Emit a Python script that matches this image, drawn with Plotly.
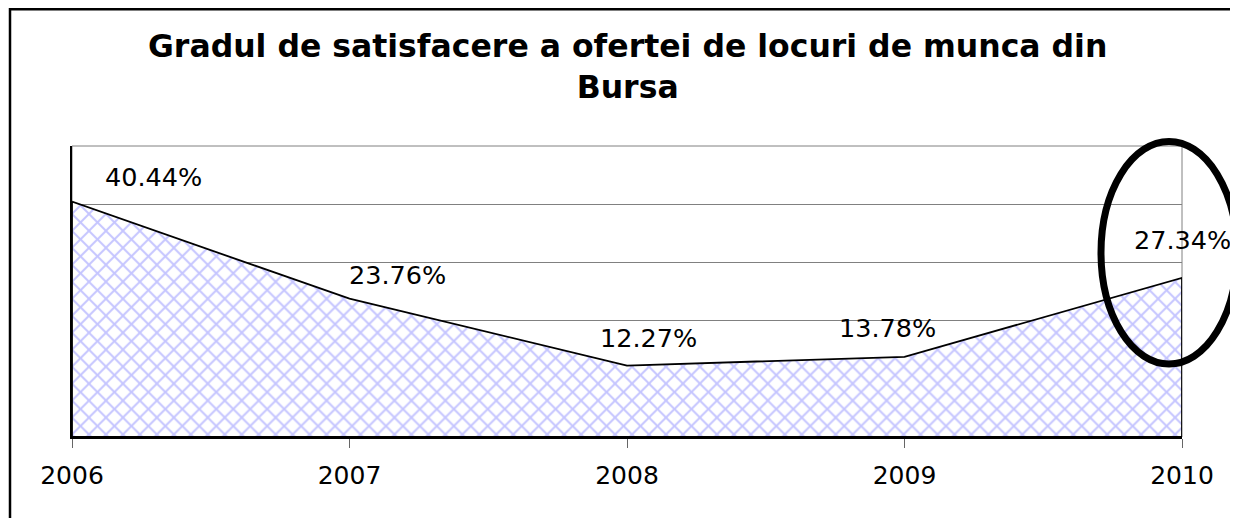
import plotly.graph_objects as go

years = [2006, 2007, 2008, 2009, 2010]
values = [0.4044, 0.2376, 0.1227, 0.1378, 0.2734]
labels = ["40.44%", "23.76%", "12.27%", "13.78%", "27.34%"]
tick_text = ["2006", "2007", "2008", "2009", "2010"]
title_lines = ["Gradul de satisfacere a ofertei de locuri de munca din", "Bursa"]

# label offsets (pixels) as placed manually in the original chart
label_dx = [81, 48, 21, -17, 0]
label_dy = [25, 24, 28, 29, 38]

OFF = 8  # page body margin
W, H = 1238 - OFF, 518 - OFF
# plot area in window pixels: x 72..1182, y 146..437
L, T = 72 - OFF, 146 - OFF
R = W - (1182 - OFF)
B = H - (437 - OFF)
pw, ph = W - L - R, H - T - B

def px(x):  # window pixel -> paper
    return (x - OFF - L) / pw

def py(y):
    return (H - B - (y - OFF)) / ph

fig = go.Figure()

# closed polygon for the area so it gets a black border all round
poly_x = years + [years[-1], years[0], years[0]]
poly_y = values + [0, 0, values[0]]
fig.add_trace(go.Scatter(
    x=poly_x, y=poly_y, mode="lines", fill="toself",
    fillcolor="white",
    fillpattern=dict(shape="x", fgcolor="#8c8cff", bgcolor="white", size=12, solidity=0.3),
    line=dict(color="black", width=1.8),
    hoverinfo="skip", showlegend=False,
))

for x, v, t, dx, dy in zip(years, values, labels, label_dx, label_dy):
    fig.add_annotation(x=x, y=v, text=t, showarrow=False, xshift=dx, yshift=dy,
                       font=dict(family="DejaVu Sans", size=25.5, color="black"))

fig.add_annotation(
    xref="paper", yref="paper", x=0.5, y=py(26), yanchor="top",
    text="<br>".join(title_lines), showarrow=False,
    font=dict(family="DejaVu Sans", size=31.5, color="black", weight="bold"),
)

# plot-area border (gray)
fig.add_shape(type="rect", xref="paper", yref="paper", x0=0, x1=1, y0=0, y1=1,
              line=dict(color="#808080", width=1), layer="below")
# outer chart border (extends past right/bottom of image)
fig.add_shape(type="rect", xref="paper", yref="paper",
              x0=px(10), x1=px(1270), y0=py(560), y1=py(9.3),
              line=dict(color="black", width=2.5))
# highlight ellipse
fig.add_shape(type="circle", xref="paper", yref="paper",
              x0=px(1101), x1=px(1237), y0=py(364), y1=py(141.5),
              line=dict(color="black", width=7))

fig.update_xaxes(
    range=[2006, 2010], tickvals=years, ticktext=tick_text,
    showgrid=False, zeroline=False, showline=True, linecolor="black", linewidth=1.5,
    ticks="outside", ticklen=9, tickcolor="#666666", tickwidth=1,
    ticklabelstandoff=6,
    tickfont=dict(family="DejaVu Sans", size=25, color="black"),
)
fig.update_yaxes(
    range=[0, 0.5], dtick=0.1, showticklabels=False, ticks="",
    showgrid=True, gridcolor="#808080", gridwidth=1,
    zeroline=False, showline=True, linecolor="black", linewidth=1.5,
)
fig.update_layout(
    width=W, height=H, margin=dict(l=L, r=R, t=T, b=B, pad=0),
    paper_bgcolor="white", plot_bgcolor="white", showlegend=False,
)

fig.write_html("out.html")
